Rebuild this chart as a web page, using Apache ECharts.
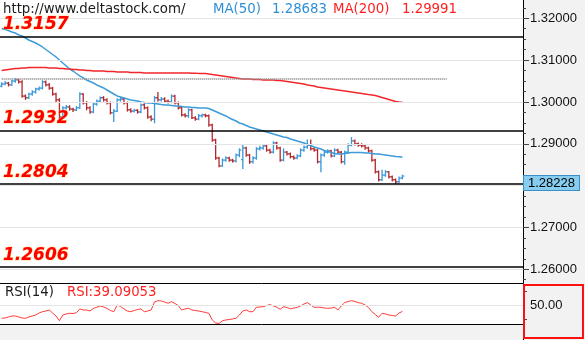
<!DOCTYPE html>
<html>
<head>
<meta charset="utf-8">
<script src="https://cdn.jsdelivr.net/npm/echarts@6/dist/echarts.min.js"></script>
<style>
  html, body { margin: 0; padding: 0; background: #fff; }
  #chart { width: 585px; height: 340px; }
</style>
</head>
<body>
<div id="chart"></div>
<script>
// ---- data -------------------------------------------------------------
const siteUrl = 'http://www.deltastock.com/';

// OHLC bars: [open, high, low, close]
const ohlc = [
  [1.3038,1.3047,1.3035,1.3043],[1.3043,1.3050,1.3040,1.3045],[1.3045,1.3048,1.3037,1.3041],[1.3041,1.3053,1.3039,1.3050],
  [1.3050,1.3057,1.3046,1.3053],[1.3053,1.3056,1.3044,1.3048],[1.3048,1.3052,1.3010,1.3014],[1.3014,1.3018,1.3005,1.3010],
  [1.3010,1.3022,1.3007,1.3019],[1.3019,1.3028,1.3015,1.3024],[1.3024,1.3034,1.3020,1.3031],[1.3031,1.3037,1.3027,1.3033],
  [1.3033,1.3052,1.3030,1.3048],[1.3048,1.3051,1.3037,1.3041],[1.3041,1.3045,1.3029,1.3033],[1.3033,1.3036,1.3015,1.3019],
  [1.3019,1.3022,1.3000,1.3005],[1.3005,1.3009,1.2958,1.2964],[1.2964,1.2990,1.2960,1.2986],[1.2986,1.2993,1.2982,1.2988],
  [1.2988,1.2992,1.2979,1.2983],[1.2983,1.2986,1.2976,1.2981],[1.2981,1.2990,1.2978,1.2986],[1.2986,1.3023,1.2984,1.3019],
  [1.3019,1.3021,1.2994,1.2998],[1.2998,1.3002,1.2980,1.2986],[1.2986,1.2990,1.2972,1.2976],[1.2976,1.2998,1.2973,1.2995],
  [1.2995,1.3006,1.2991,1.3002],[1.3002,1.3013,1.2999,1.3010],[1.3010,1.3014,1.3001,1.3005],[1.3005,1.3009,1.2994,1.2998],
  [1.2998,1.3001,1.2970,1.2974],[1.2974,1.2983,1.2952,1.2978],[1.2978,1.3009,1.2976,1.3005],[1.3005,1.3012,1.3001,1.3007],
  [1.3007,1.3010,1.2994,1.2998],[1.2998,1.3001,1.2977,1.2981],[1.2981,1.2985,1.2974,1.2978],[1.2978,1.2984,1.2975,1.2980],
  [1.2980,1.2983,1.2972,1.2976],[1.2976,1.2996,1.2973,1.2993],[1.2993,1.2997,1.2982,1.2986],[1.2986,1.2989,1.2960,1.2964],
  [1.2964,1.2968,1.2954,1.2959],[1.2959,1.3014,1.2949,1.3010],[1.3010,1.3024,1.3001,1.3005],[1.3005,1.3012,1.3001,1.3007],
  [1.3007,1.3011,1.2998,1.3002],[1.3002,1.3006,1.2996,1.3000],[1.3000,1.3018,1.2997,1.3014],[1.3014,1.3017,1.2994,1.2998],
  [1.2998,1.3001,1.2982,1.2986],[1.2986,1.2989,1.2965,1.2969],[1.2969,1.2973,1.2963,1.2967],[1.2967,1.2985,1.2962,1.2981],
  [1.2981,1.2984,1.2959,1.2962],[1.2962,1.2966,1.2955,1.2959],[1.2959,1.2971,1.2956,1.2967],[1.2967,1.2972,1.2963,1.2969],
  [1.2969,1.2972,1.2963,1.2967],[1.2967,1.2970,1.2941,1.2945],[1.2945,1.2948,1.2905,1.2909],[1.2909,1.2912,1.2862,1.2866],
  [1.2866,1.2869,1.2844,1.2847],[1.2847,1.2865,1.2845,1.2861],[1.2861,1.2870,1.2857,1.2866],[1.2866,1.2869,1.2857,1.2861],
  [1.2861,1.2864,1.2855,1.2859],[1.2859,1.2877,1.2855,1.2873],[1.2873,1.2889,1.2868,1.2885],[1.2862,1.2897,1.2840,1.2890],
  [1.2890,1.2893,1.2869,1.2873],[1.2873,1.2876,1.2852,1.2857],[1.2857,1.2870,1.2853,1.2866],[1.2866,1.2892,1.2862,1.2888],
  [1.2888,1.2895,1.2884,1.2890],[1.2890,1.2899,1.2886,1.2895],[1.2895,1.2898,1.2881,1.2885],[1.2885,1.2888,1.2876,1.2880],
  [1.2880,1.2906,1.2877,1.2902],[1.2902,1.2905,1.2886,1.2890],[1.2890,1.2893,1.2857,1.2861],[1.2861,1.2889,1.2858,1.2880],
  [1.2880,1.2883,1.2872,1.2876],[1.2876,1.2879,1.2865,1.2869],[1.2869,1.2872,1.2862,1.2866],[1.2866,1.2875,1.2863,1.2871],
  [1.2871,1.2889,1.2868,1.2885],[1.2885,1.2896,1.2881,1.2892],[1.2892,1.2910,1.2888,1.2897],[1.2897,1.2910,1.2884,1.2888],
  [1.2888,1.2892,1.2881,1.2885],[1.2885,1.2888,1.2853,1.2857],[1.2857,1.2877,1.2832,1.2873],[1.2873,1.2884,1.2869,1.2880],
  [1.2880,1.2887,1.2876,1.2883],[1.2883,1.2886,1.2867,1.2871],[1.2871,1.2889,1.2868,1.2885],[1.2885,1.2888,1.2876,1.2880],
  [1.2880,1.2883,1.2853,1.2857],[1.2857,1.2884,1.2850,1.2880],[1.2880,1.2901,1.2877,1.2897],[1.2897,1.2916,1.2894,1.2907],
  [1.2907,1.2910,1.2896,1.2900],[1.2900,1.2903,1.2893,1.2897],[1.2897,1.2901,1.2891,1.2895],[1.2895,1.2898,1.2886,1.2890],
  [1.2890,1.2893,1.2879,1.2883],[1.2883,1.2886,1.2857,1.2861],[1.2861,1.2864,1.2829,1.2833],[1.2833,1.2836,1.2810,1.2814],
  [1.2814,1.2838,1.2811,1.2825],[1.2825,1.2837,1.2821,1.2833],[1.2833,1.2835,1.2817,1.2821],[1.2821,1.2824,1.2810,1.2814],
  [1.2814,1.2817,1.2804,1.2809],[1.2809,1.2822,1.2806,1.2818],[1.2818,1.2826,1.2815,1.28228]
];

// 50-period moving average
const ma50 = [
  1.31756,1.31732,1.31708,1.31672,1.31648,1.31601,1.31577,1.31529,1.31481,1.31445,
  1.31409,1.31362,1.31314,1.31254,1.31194,1.31134,1.31075,1.31003,1.30931,1.30860,
  1.30788,1.30740,1.30680,1.30621,1.30573,1.30525,1.30489,1.30453,1.30406,1.30370,
  1.30334,1.30286,1.30238,1.30190,1.30143,1.30119,1.30095,1.30071,1.30047,1.30035,
  1.30023,1.29999,1.29987,1.29975,1.29975,1.29963,1.29951,1.29939,1.29928,1.29928,
  1.29916,1.29904,1.29904,1.29892,1.29880,1.29880,1.29868,1.29868,1.29856,1.29856,
  1.29856,1.29844,1.29808,1.29772,1.29736,1.29700,1.29665,1.29617,1.29581,1.29545,
  1.29497,1.29473,1.29438,1.29402,1.29378,1.29354,1.29330,1.29306,1.29282,1.29258,
  1.29234,1.29211,1.29187,1.29163,1.29151,1.29115,1.29091,1.29067,1.29043,1.29019,
  1.28983,1.28960,1.28924,1.28900,1.28876,1.28840,1.28816,1.28792,1.28768,1.28756,
  1.28756,1.28768,1.28780,1.28792,1.28792,1.28792,1.28792,1.28780,1.28780,1.28768,
  1.28756,1.28756,1.28744,1.28733,1.28721,1.28709,1.28697,1.28690,1.28683
];

// 200-period moving average
const ma200 = [
  1.30752,1.30764,1.30776,1.30788,1.30800,1.30800,1.30812,1.30812,1.30824,1.30824,
  1.30824,1.30824,1.30824,1.30824,1.30812,1.30812,1.30812,1.30800,1.30800,1.30788,
  1.30788,1.30776,1.30776,1.30764,1.30764,1.30752,1.30752,1.30740,1.30740,1.30740,
  1.30740,1.30728,1.30728,1.30728,1.30716,1.30716,1.30716,1.30716,1.30704,1.30704,
  1.30704,1.30704,1.30692,1.30692,1.30692,1.30692,1.30692,1.30692,1.30692,1.30692,
  1.30692,1.30692,1.30692,1.30689,1.30689,1.30689,1.30686,1.30686,1.30683,1.30683,
  1.30680,1.30668,1.30656,1.30645,1.30633,1.30621,1.30609,1.30597,1.30585,1.30573,
  1.30561,1.30549,1.30549,1.30549,1.30537,1.30537,1.30537,1.30525,1.30525,1.30525,
  1.30525,1.30513,1.30513,1.30501,1.30489,1.30477,1.30465,1.30453,1.30441,1.30429,
  1.30406,1.30394,1.30382,1.30358,1.30346,1.30334,1.30322,1.30310,1.30298,1.30286,
  1.30274,1.30262,1.30250,1.30238,1.30226,1.30214,1.30202,1.30190,1.30178,1.30167,
  1.30155,1.30131,1.30107,1.30083,1.30059,1.30035,1.30011,1.29999,1.29991
];

// RSI(14)
const rsi14 = [
  27.1,27.6,29.4,31.1,31.1,29.4,27.6,27.1,29.4,31.1,
  32.9,36.4,38.7,39.9,41.7,36.4,31.1,22.8,32.9,34.7,
  35.9,35.5,36.9,43.5,41.7,41.7,39.9,44.4,46.5,48.8,
  47.0,44.4,40.8,38.7,50.5,47.9,43.5,39.9,38.7,40.8,
  42.6,43.5,38.7,39.9,41.7,55.8,58.1,57.6,55.8,53.5,
  56.3,53.2,49.6,41.7,43.5,44.7,41.7,40.8,39.9,38.7,
  37.3,35.9,24.1,18.8,17.9,22.8,24.1,25.0,25.8,27.1,
  32.9,39.9,41.7,38.7,38.7,46.5,47.0,47.5,49.6,51.1,
  48.8,46.5,42.9,47.5,46.1,43.5,45.2,46.1,48.8,52.3,
  54.6,50.5,46.5,46.5,46.5,45.2,44.7,45.2,46.5,41.7,
  48.8,54.6,56.7,58.1,56.7,54.6,53.5,50.5,46.1,38.7,
  33.8,28.8,35.9,34.7,32.9,32.0,31.1,36.4,39.09053
];

// Support / resistance levels and the dotted reference level
const levels = [1.3157, 1.2932, 1.2804, 1.2606];
const dottedLevel = 1.3055;
const dottedLevelEndSlot = 131;

// Axis ticks
const priceTicks = [1.26, 1.27, 1.28, 1.29, 1.30, 1.31, 1.32];
const priceLabels = [1.26, 1.27, 1.29, 1.30, 1.31, 1.32];
const priceMinorTicks = [1.2575,1.26,1.2625,1.265,1.2675,1.27,1.2725,1.275,1.2775,1.28,1.2825,1.285,1.2875,
  1.29,1.2925,1.295,1.2975,1.30,1.3025,1.305,1.3075,1.31,1.3125,1.315,1.3175,1.32,1.3225];
const rsiTicks = [25, 75];
const rsiLabels = [50];

// ---- layout -----------------------------------------------------------
const SLOT_COUNT = 154;              // bar slots incl. empty space at the right
const AXIS_W = 62;                   // width of the price scale column
const MAIN_BOTTOM = 283;
const RSI_TOP = 284, RSI_H = 40;
const W = 585, H = 340;
const UP = '#3797d8', DOWN = '#b3272d';
const MA50_COLOR = '#3d9bd9', MA200_COLOR = '#f2262a';
const UI_FONT = '"DejaVu Sans", Verdana, sans-serif';
const AXIS_FONT = '"Liberation Sans", Arial, sans-serif';

const slots = Array.from({ length: SLOT_COUNT }, (_, i) => String(i));
const lastClose = ohlc[ohlc.length - 1][3];
const lastMa50 = ma50[ma50.length - 1];
const lastMa200 = ma200[ma200.length - 1];
const lastRsi = rsi14[rsi14.length - 1];

const chart = echarts.init(document.getElementById('chart'), null, { renderer: 'canvas' });

function renderBar(params, api) {
  const i = api.value(0);
  const o = api.coord([i, api.value(1)]);
  const h = api.coord([i, api.value(2)]);
  const l = api.coord([i, api.value(3)]);
  const c = api.coord([i, api.value(4)]);
  const x = o[0];
  const color = api.value(4) >= api.value(1) ? UP : DOWN;
  const st = { stroke: color, lineWidth: 1.3 };
  return {
    type: 'group',
    children: [
      { type: 'line', shape: { x1: x, y1: h[1], x2: x, y2: l[1] }, style: st },
      { type: 'line', shape: { x1: x - 1.8, y1: o[1], x2: x, y2: o[1] }, style: st },
      { type: 'line', shape: { x1: x, y1: c[1], x2: x + 1.8, y2: c[1] }, style: st }
    ]
  };
}

const option = {
  animation: false,
  backgroundColor: '#ffffff',
  textStyle: { fontFamily: UI_FONT },
  grid: [
    { left: 0, right: AXIS_W, top: 0, height: MAIN_BOTTOM, containLabel: false },
    { left: 0, right: AXIS_W, top: RSI_TOP, height: RSI_H, containLabel: false }
  ],
  xAxis: [
    { type: 'category', gridIndex: 0, data: slots, boundaryGap: true,
      axisLine: { show: true, lineStyle: { color: '#000', width: 1 } },
      axisTick: { show: false }, axisLabel: { show: false }, splitLine: { show: false } },
    { type: 'category', gridIndex: 1, data: slots, boundaryGap: true,
      axisLine: { show: true, lineStyle: { color: '#000', width: 1 } },
      axisTick: { show: false }, axisLabel: { show: false }, splitLine: { show: false } }
  ],
  yAxis: [
    { type: 'value', gridIndex: 0, position: 'right', min: 1.25672, max: 1.32437, scale: true,
      axisLine: { show: true, lineStyle: { color: '#000' } },
      axisTick: { show: true, customValues: priceTicks, length: 6, lineStyle: { color: '#444' } },
      axisLabel: { show: true, customValues: priceLabels, formatter: v => v.toFixed(5),
        color: '#111', fontFamily: AXIS_FONT, fontSize: 13, margin: 7 },
      splitLine: { show: false } },
    { type: 'value', gridIndex: 0, position: 'right', min: 1.25672, max: 1.32437, scale: true,
      axisLine: { show: false },
      axisTick: { show: true, customValues: priceMinorTicks, length: 3, lineStyle: { color: '#444' } },
      axisLabel: { show: false }, splitLine: { show: false } },
    { type: 'value', gridIndex: 1, position: 'right', min: 17, max: 87.5,
      axisLine: { show: true, lineStyle: { color: '#000' } },
      axisTick: { show: true, customValues: rsiTicks, length: 4, lineStyle: { color: '#444' } },
      axisLabel: { show: true, customValues: rsiLabels, formatter: v => v.toFixed(2),
        color: '#111', fontFamily: AXIS_FONT, fontSize: 13, margin: 7 },
      splitLine: { show: false } }
  ],
  series: [
    // light horizontal grid at the major price ticks
    { type: 'line', name: 'grid', xAxisIndex: 0, yAxisIndex: 0, data: [], z: 1, silent: true,
      markLine: { silent: true, precision: 5, symbol: ['none', 'none'], label: { show: false },
        lineStyle: { color: '#e4e4e4', width: 1, type: 'solid' },
        data: priceTicks.map(v => ({ yAxis: v })) } },
    // price bars
    { type: 'custom', name: 'price', xAxisIndex: 0, yAxisIndex: 0, z: 3,
      renderItem: renderBar,
      encode: { x: 0, y: [1, 2, 3, 4] },
      data: ohlc.map((b, i) => [i, b[0], b[1], b[2], b[3]]) },
    // last price tag on the price scale
    { type: 'line', name: 'lastPrice', xAxisIndex: 0, yAxisIndex: 0, data: [], z: 20, silent: true,
      markLine: { silent: true, precision: 5, symbol: ['none', 'none'],
        lineStyle: { color: 'transparent', width: 0 },
        label: { show: true, position: 'end', distance: 1, formatter: p => Number(p.value).toFixed(5),
          color: '#000', fontFamily: AXIS_FONT, fontSize: 13, verticalAlign: 'top',
          backgroundColor: '#87cdf0', borderColor: '#3d8fc8', borderWidth: 1, padding: [1, 4, 0, 4] },
        data: [{ yAxis: lastClose }] } },
    { type: 'line', name: 'MA(50)', xAxisIndex: 0, yAxisIndex: 0, data: ma50, z: 4,
      showSymbol: false, symbol: 'none', lineStyle: { color: MA50_COLOR, width: 1.5 } },
    { type: 'line', name: 'MA(200)', xAxisIndex: 0, yAxisIndex: 0, data: ma200, z: 4,
      showSymbol: false, symbol: 'none', lineStyle: { color: MA200_COLOR, width: 1.5 },
      markLine: { silent: true, precision: 5, symbol: ['none', 'none'],
        data: [
          ...levels.map(v => ({ yAxis: v, name: v.toFixed(4),
            lineStyle: { color: '#000', width: 1.5, type: 'solid' },
            label: { show: true, position: 'insideStartTop', distance: 3, formatter: '{b}',
              color: '#ff0000', fontFamily: UI_FONT, fontSize: 17, fontWeight: 'bold', fontStyle: 'italic',
              textBorderColor: 'rgba(255,190,40,0.55)', textBorderWidth: 1 } })),
          [ { coord: [0, dottedLevel], lineStyle: { color: '#999', width: 2, type: [1, 1] }, label: { show: false } },
            { coord: [dottedLevelEndSlot, dottedLevel] } ]
        ] } },
    { type: 'line', name: 'RSI', xAxisIndex: 1, yAxisIndex: 2, data: rsi14, z: 4,
      showSymbol: false, symbol: 'none', lineStyle: { color: '#ff3b3b', width: 1 },
      markLine: { silent: true, precision: 2, symbol: ['none', 'none'], label: { show: false },
        lineStyle: { color: '#e4e4e4', width: 1, type: 'solid' },
        data: rsiLabels.map(v => ({ yAxis: v })) } }
  ],
  graphic: [
    { type: 'rect', z: -10, silent: true, shape: { x: W - AXIS_W, y: 0, width: AXIS_W, height: H }, style: { fill: '#f2f2f2' } },
    { type: 'rect', z: -10, silent: true, shape: { x: 0, y: RSI_TOP + RSI_H, width: W - AXIS_W, height: H - RSI_TOP - RSI_H }, style: { fill: '#f2f2f2' } },
    { type: 'line', z: 50, silent: true, shape: { x1: W - AXIS_W + 0.5, y1: RSI_TOP + RSI_H, x2: W - AXIS_W + 0.5, y2: H }, style: { stroke: '#000', lineWidth: 1 } },
    { type: 'rect', z: 60, silent: true, shape: { x: W - AXIS_W + 1, y: RSI_TOP + 1, width: AXIS_W - 3, height: H - RSI_TOP - 3 },
      style: { fill: null, stroke: '#ff1010', lineWidth: 2 } },
    { type: 'text', z: 60, silent: true, x: 3, y: 10,
      style: { text: siteUrl, fill: '#1a1a1a', font: '13.3px ' + UI_FONT, verticalAlign: 'middle' } },
    { type: 'text', z: 60, silent: true, x: 213, y: 10,
      style: { text: 'MA(50)', fill: '#2f8fd6', font: '13.3px ' + UI_FONT, verticalAlign: 'middle' } },
    { type: 'text', z: 60, silent: true, x: 272, y: 10,
      style: { text: lastMa50.toFixed(5), fill: '#2f8fd6', font: '13.3px ' + UI_FONT, verticalAlign: 'middle' } },
    { type: 'text', z: 60, silent: true, x: 333, y: 10,
      style: { text: 'MA(200)', fill: '#ff1f1f', font: '13.3px ' + UI_FONT, verticalAlign: 'middle' } },
    { type: 'text', z: 60, silent: true, x: 402, y: 10,
      style: { text: lastMa200.toFixed(5), fill: '#ff1f1f', font: '13.3px ' + UI_FONT, verticalAlign: 'middle' } },
    { type: 'text', z: 60, silent: true, x: 5, y: 293,
      style: { text: 'RSI(14)', fill: '#1a1a1a', font: '13.3px ' + UI_FONT, verticalAlign: 'middle' } },
    { type: 'text', z: 60, silent: true, x: 67, y: 293,
      style: { text: 'RSI:' + lastRsi.toFixed(5), fill: '#ff1f1f', font: '13.3px ' + UI_FONT, verticalAlign: 'middle' } }
  ]
};

chart.setOption(option);
</script>
</body>
</html>
